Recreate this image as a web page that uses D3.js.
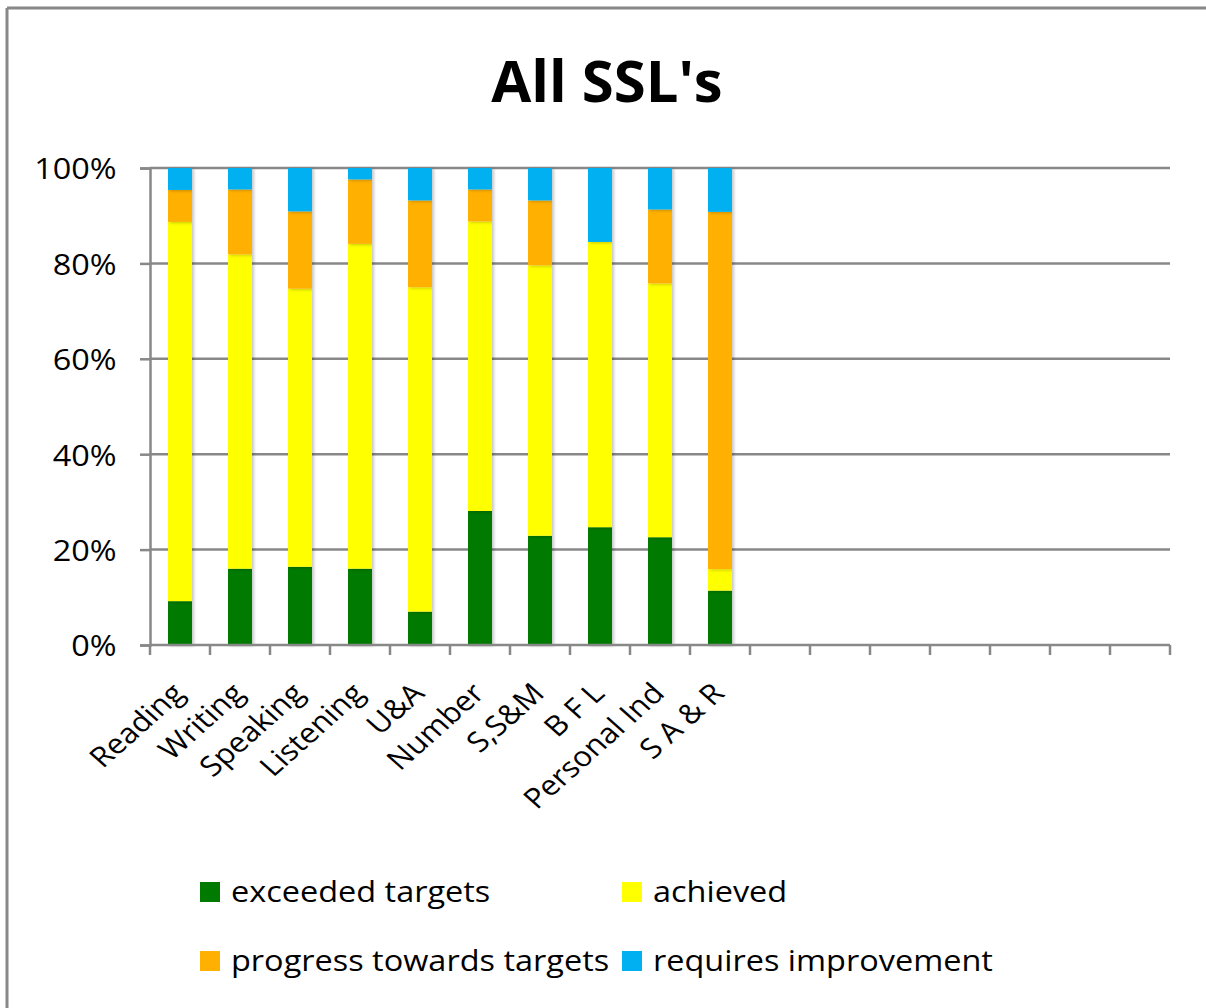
<!DOCTYPE html>
<meta charset="utf-8">
<script src="https://d3js.org/d3.v7.min.js"></script>
<style>
  body { margin: 0; background: #fff; }
  text { font-family: "Open Sans", "Noto Sans", sans-serif; fill: #000; }
</style>
<div id="chart"></div>
<script>

// categories (17 slots on the axis, only the first 10 are used)
var categories = ["Reading", "Writing", "Speaking", "Listening", "U&A", "Number", "S,S&M", "B F L", "Personal Ind", "S A & R"];
var slotCount = 17;

// series values, percent of each bar
var exceeded = [9.2, 16.0, 16.4, 16.0, 7.0, 28.1, 22.9, 24.7, 22.6, 11.4];
var achieved = [79.5, 65.9, 58.3, 68.1, 68.0, 60.7, 56.7, 59.8, 53.2, 4.5];
var progress = [6.7, 13.6, 16.2, 13.5, 18.2, 6.7, 13.6, 0, 15.5, 74.9];
var requires = [4.6, 4.5, 9.1, 2.4, 6.8, 4.5, 6.8, 15.5, 8.7, 9.2];

var seriesNames = ["exceeded targets", "achieved", "progress towards targets", "requires improvement"];
var seriesColors = ["#007A00", "#FFFF00", "#FFB000", "#00B0F0"];
var yTicks = [0, 20, 40, 60, 80, 100];

var W = 1206, H = 1008;
var margin = {top: 168, right: 36, bottom: 363, left: 150},
    width = W - margin.left - margin.right,
    height = H - margin.top - margin.bottom;

// the original text is a little wider than the fonts we have
var stretch = 1.12;

var svg = d3.select("#chart").append("svg")
    .attr("width", W)
    .attr("height", H);

// soft shadow behind the bars
var defs = svg.append("defs");
var f = defs.append("filter").attr("id", "shadow")
    .attr("x", "-30%").attr("y", "-5%").attr("width", "160%").attr("height", "110%");
f.append("feDropShadow").attr("dx", 2).attr("dy", 1).attr("stdDeviation", 1.5)
    .attr("flood-color", "#000").attr("flood-opacity", 0.22);

// outer frame (left and top only are visible)
svg.append("line").attr("x1", 7).attr("x2", 7).attr("y1", 8).attr("y2", H)
    .attr("stroke", "#888").attr("stroke-width", 3);
svg.append("line").attr("x1", 7).attr("x2", W).attr("y1", 8).attr("y2", 8)
    .attr("stroke", "#888").attr("stroke-width", 3);

// title
svg.append("text")
    .attr("x", 607).attr("y", 102)
    .attr("text-anchor", "middle")
    .style("font-size", "58px").style("font-weight", "bold")
    .text("All SSL's");

var g = svg.append("g").attr("transform", "translate(" + margin.left + "," + margin.top + ")");

var x = d3.scaleBand()
    .domain(d3.range(slotCount))
    .range([0, width])
    .paddingInner(0.6)
    .paddingOuter(0.3);

var y = d3.scaleLinear().domain([0, 100]).range([height, 0]);

// grid lines
g.append("g").selectAll("line")
  .data(yTicks.filter(function(d) { return d > 0; }))
  .enter().append("line")
    .attr("x1", 0).attr("x2", width)
    .attr("y1", function(d) { return y(d); })
    .attr("y2", function(d) { return y(d); })
    .attr("stroke", "#888").attr("stroke-width", 2.5);

// stacked data
var rows = categories.map(function(c, i) {
  return {idx: i, s0: exceeded[i], s1: achieved[i], s2: progress[i], s3: requires[i]};
});
var stack = d3.stack().keys(["s0", "s1", "s2", "s3"]);
var layers = stack(rows);

g.append("g").selectAll("g")
  .data(layers)
  .enter().append("g")
    .attr("fill", function(d, i) { return seriesColors[i]; })
    .attr("filter", "url(#shadow)")
  .selectAll("rect")
  .data(function(d) { return d; })
  .enter().append("rect")
    .attr("x", function(d) { return x(d.data.idx); })
    .attr("width", x.bandwidth())
    .attr("y", function(d) { return y(d[1]); })
    .attr("height", function(d) { return y(d[0]) - y(d[1]); });

// y axis
var yAxis = g.append("g")
    .call(d3.axisLeft(y).tickValues(yTicks).tickSize(10).tickPadding(21)
      .tickFormat(function(d) { return d + "%"; }));
yAxis.select(".domain").attr("stroke", "#888").attr("stroke-width", 2.5);
yAxis.selectAll(".tick line").attr("stroke", "#888").attr("stroke-width", 2.5);
yAxis.selectAll(".tick text")
    .style("font-size", "30px")
    .attr("dy", "0.36em")
    .attr("transform", "scale(1.08,1)");

// x axis: line and ticks at band boundaries
var step = x.step();
g.append("line").attr("x1", 0).attr("x2", width).attr("y1", height).attr("y2", height)
    .attr("stroke", "#888").attr("stroke-width", 2.5);
g.append("g").selectAll("line")
  .data(d3.range(slotCount + 1))
  .enter().append("line")
    .attr("x1", function(d) { return d * step; })
    .attr("x2", function(d) { return d * step; })
    .attr("y1", height).attr("y2", height + 10)
    .attr("stroke", "#888").attr("stroke-width", 2.5);

// category labels
g.append("g").selectAll("text")
  .data(categories)
  .enter().append("text")
    .attr("text-anchor", "end")
    .attr("transform", function(d, i) {
      return "translate(" + (x(i) + x.bandwidth() / 2 + 6) + "," + (height + 50) + ") scale(" + stretch + ",1) rotate(-45)";
    })
    .style("font-size", "28px")
    .text(function(d) { return d; });

// legend
var legendPos = [[200, 892], [622, 892], [200, 961], [622, 961]];
var legend = svg.append("g").selectAll("g")
  .data(seriesNames)
  .enter().append("g")
    .attr("transform", function(d, i) { return "translate(" + legendPos[i][0] + "," + legendPos[i][1] + ")"; });
legend.append("rect")
    .attr("x", 0).attr("y", -10).attr("width", 20).attr("height", 20)
    .attr("fill", function(d, i) { return seriesColors[i]; });
legend.append("text")
    .attr("transform", "translate(31,0) scale(" + stretch + ",1)")
    .attr("dy", "0.35em")
    .style("font-size", "29px")
    .text(function(d) { return d; });

</script>
